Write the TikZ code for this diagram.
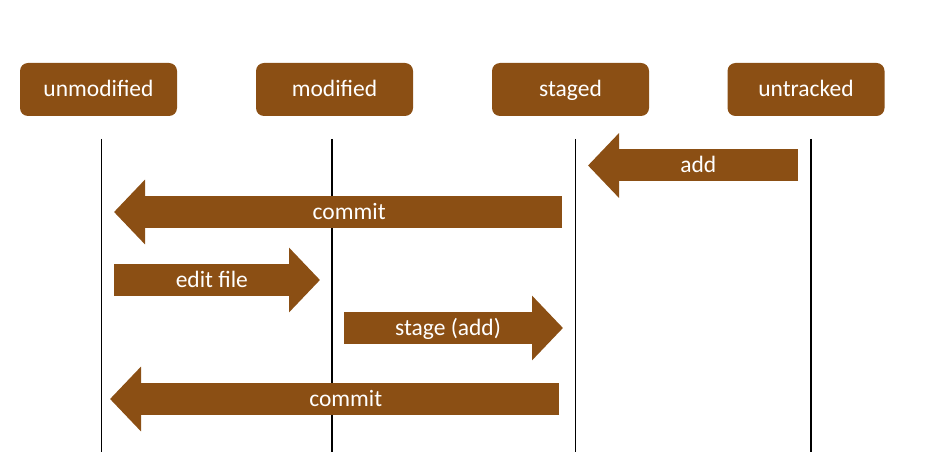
\documentclass[tikz,border=0pt]{standalone}
\usepackage{fontspec}
\setmainfont{Carlito}
\usepackage{xcolor}
\usepackage{tikz}
\usetikzlibrary{arrows.meta}
\definecolor{gitbrown}{RGB}{139,79,20}

\begin{document}
\begin{tikzpicture}[
  x=1pt, y=-1pt,
  state/.style={rectangle, rounded corners=8pt, fill=gitbrown, text=white, minimum width=157pt, minimum height=53pt, text height=19.5pt, text depth=5pt, font=\fontsize{23.5}{28}\selectfont},
  lifeline/.style={black, line width=1.2pt},
  flow/.style={gitbrown, line width=32pt, -{Triangle[length=31pt,width=63pt]}},
  flowlabel/.style={text=white, text height=20pt, text depth=5pt, font=\fontsize{23.5}{28}\selectfont, pos=0.475}
]
\useasboundingbox (0,0) rectangle (950,470);

% States
\node[state] (unmod) at (98.5,89.5) {unmodified};
\node[state] (mod) at (334.5,89.5) {modified};
\node[state] (staged) at (570.5,89.5) {staged};
\node[state] (untracked) at (806,89.5) {untracked};

% Lifelines
\coordinate (unmodtop) at (101.5,139);
\coordinate (unmodbot) at (101.5,452);
\coordinate (modtop) at (332,139);
\coordinate (modbot) at (332,452);
\coordinate (stagedtop) at (575.5,139);
\coordinate (stagedbot) at (575.5,452);
\coordinate (untrackedtop) at (811,139);
\coordinate (untrackedbot) at (811,452);
\draw[lifeline] (unmodtop) -- (unmodbot);
\draw[lifeline] (modtop) -- (modbot);
\draw[lifeline] (stagedtop) -- (stagedbot);
\draw[lifeline] (untrackedtop) -- (untrackedbot);

% Transitions
\coordinate (addfrom) at (798,165.5);
\coordinate (addto) at (588,165.5);
\coordinate (commitfrom) at (562,212);
\coordinate (committo) at (114,212);
\coordinate (editfrom) at (114,280);
\coordinate (editto) at (320,280);
\coordinate (stagefrom) at (344,328);
\coordinate (stageto) at (563,328);
\coordinate (recommitfrom) at (559,399);
\coordinate (recommitto) at (110,399);

\draw[flow] (addfrom) -- (addto) node[flowlabel] (addlabel) {add};
\draw[flow] (commitfrom) -- (committo) node[flowlabel] (commitlabel) {commit};
\draw[flow] (editfrom) -- (editto) node[flowlabel] (editlabel) {edit file};
\draw[flow] (stagefrom) -- (stageto) node[flowlabel] (stagelabel) {stage (add)};
\draw[flow] (recommitfrom) -- (recommitto) node[flowlabel] (recommitlabel) {commit};

\end{tikzpicture}
\end{document}
